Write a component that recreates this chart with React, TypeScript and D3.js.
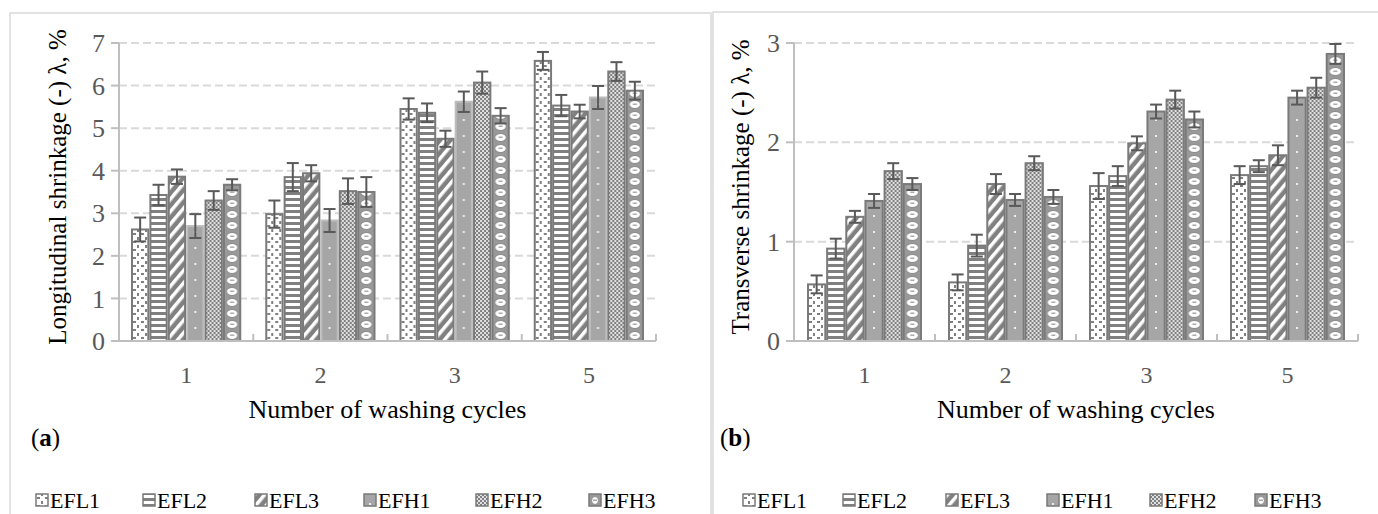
import React from "react";
import * as d3 from "d3";

const categories = ["1", "2", "3", "5"];
const series = ["EFL1", "EFL2", "EFL3", "EFH1", "EFH2", "EFH3"];

const longValues = [
  [2.62, 3.43, 3.86, 2.7, 3.3, 3.67],
  [2.98, 3.85, 3.94, 2.83, 3.52, 3.5],
  [5.45, 5.36, 4.75, 5.62, 6.07, 5.29],
  [6.58, 5.53, 5.39, 5.72, 6.33, 5.88],
];
const longErrors = [
  [0.28, 0.24, 0.17, 0.28, 0.22, 0.13],
  [0.32, 0.33, 0.19, 0.27, 0.3, 0.35],
  [0.25, 0.22, 0.19, 0.24, 0.26, 0.18],
  [0.21, 0.25, 0.16, 0.27, 0.22, 0.21],
];
const transValues = [
  [0.57, 0.93, 1.25, 1.41, 1.71, 1.58],
  [0.59, 0.96, 1.58, 1.42, 1.79, 1.45],
  [1.56, 1.66, 1.99, 2.31, 2.43, 2.23],
  [1.67, 1.76, 1.87, 2.45, 2.55, 2.89],
];
const transErrors = [
  [0.09, 0.1, 0.06, 0.07, 0.08, 0.06],
  [0.08, 0.11, 0.1, 0.06, 0.07, 0.07],
  [0.13, 0.1, 0.07, 0.07, 0.09, 0.08],
  [0.09, 0.06, 0.1, 0.07, 0.1, 0.1],
];
const longTicks = [0, 1, 2, 3, 4, 5, 6, 7];
const transTicks = [0, 1, 2, 3];

const FONT = "'Liberation Serif', 'Times New Roman', serif";
const GREY = "#808080";

function Pattern({ id, type, x, w }: { id: string; type: number; x: number; w: number }) {
  if (type === 0) {
    return (
      <pattern id={id} patternUnits="userSpaceOnUse" x={x} y={0} width={8} height={8}>
        <rect width={8} height={8} fill="#fff" />
        <rect x={1} y={1} width={3} height={2} fill={GREY} />
        <rect x={5} y={5} width={2} height={3} fill={GREY} />
      </pattern>
    );
  }
  if (type === 1) {
    return (
      <pattern id={id} patternUnits="userSpaceOnUse" x={x} y={0} width={6} height={6}>
        <rect width={6} height={6} fill="#fff" />
        <rect width={6} height={3} fill={GREY} />
      </pattern>
    );
  }
  if (type === 2) {
    return (
      <pattern id={id} patternUnits="userSpaceOnUse" x={x} y={0} width={8} height={8} patternTransform="rotate(40)">
        <rect width={8} height={8} fill={GREY} />
        <rect width={3.5} height={8} fill="#fff" />
      </pattern>
    );
  }
  if (type === 3) {
    return (
      <pattern id={id} patternUnits="userSpaceOnUse" x={x} y={0} width={w} height={16}>
        <rect width={w} height={16} fill="#a6a6a6" />
        <circle cx={w / 2} cy={8} r={1.1} fill="#fff" />
      </pattern>
    );
  }
  if (type === 4) {
    return (
      <pattern id={id} patternUnits="userSpaceOnUse" x={x} y={0} width={4} height={4}>
        <rect width={4} height={4} fill="#e0e0e0" />
        <rect width={2} height={2} fill={GREY} />
        <rect x={2} y={2} width={2} height={2} fill={GREY} />
      </pattern>
    );
  }
  return (
    <pattern id={id} patternUnits="userSpaceOnUse" x={x} y={0} width={w} height={11}>
      <rect width={w} height={11} fill="#999" />
      <ellipse cx={w / 2} cy={5.5} rx={w / 2 - 2.5} ry={4} fill="#fff" stroke="#8a8a8a" strokeWidth={1} />
      <rect x={w / 2 - 2} y={4.5} width={4} height={1.5} fill="#aaa" />
    </pattern>
  );
}

type PanelProps = {
  key?: string;
  pid: string;
  values: number[][];
  errors: number[][];
  ticks: number[];
  x0: number;
  x1: number;
  innerPad: number;
  barW: number;
  yTitle: string;
  yTitleX: number;
  tag: string;
  legendX: number[];
  efh1Stroke: string;
};

function Panel(p: PanelProps) {
  const yTop = 43;
  const yBot = 341;
  const ymax = p.ticks[p.ticks.length - 1];
  const y = d3.scaleLinear().domain([0, ymax]).range([yBot, yTop]);
  const x = d3.scaleBand<string>().domain(categories).range([p.x0, p.x1]).padding(0);
  const bw = x.bandwidth();
  const step = (bw - 2 * p.innerPad) / series.length;
  const xs = d3
    .scaleBand<string>()
    .domain(series)
    .range([p.innerPad, bw - p.innerPad])
    .paddingInner((step - p.barW) / step)
    .paddingOuter(0);
  const defs: any[] = [];
  const bars: any[] = [];
  const errs: any[] = [];
  categories.forEach((c, ci) => {
    series.forEach((s, si) => {
      const bx = (x(c) as number) + (xs(s) as number);
      const w = xs.bandwidth();
      const id = `${p.pid}-${ci}-${si}`;
      defs.push(<Pattern key={id} id={id} type={si} x={bx} w={w} />);
      const v = p.values[ci][si];
      const e = p.errors[ci][si];
      bars.push(
        <rect
          key={"b" + id}
          x={bx}
          y={y(v)}
          width={w}
          height={yBot - y(v)}
          fill={`url(#${id})`}
          stroke={si === 3 ? p.efh1Stroke : "#7a7a7a"}
          strokeWidth={2}
        />
      );
      const cx = bx + w / 2;
      errs.push(
        <g key={"e" + id} stroke="#595959" strokeWidth={2}>
          <line x1={cx} x2={cx} y1={y(v + e)} y2={y(v - e)} />
          <line x1={cx - 6} x2={cx + 6} y1={y(v + e)} y2={y(v + e)} />
          <line x1={cx - 6} x2={cx + 6} y1={y(v - e)} y2={y(v - e)} />
        </g>
      );
    });
  });
  const legendItems = series.map((s, si) => {
    const lx = p.legendX[si];
    const id = `${p.pid}-leg-${si}`;
    defs.push(<Pattern key={id} id={id} type={si} x={lx} w={12} />);
    return (
      <g key={id}>
        <rect x={lx} y={494} width={12} height={12} fill={`url(#${id})`} stroke="#7a7a7a" strokeWidth={1.5} />
        <text x={lx + 14} y={508} fontSize={22} fontFamily={FONT} fill="#000">
          {s}
        </text>
      </g>
    );
  });
  const midX = (p.x0 + p.x1) / 2;
  return (
    <g>
      <defs>{defs}</defs>
      {p.ticks.map((t) =>
        t === 0 ? null : (
          <line
            key={"g" + t}
            x1={p.x0}
            x2={p.x1}
            y1={y(t)}
            y2={y(t)}
            stroke="#d9d9d9"
            strokeWidth={2}
            strokeDasharray="8,4"
          />
        )
      )}
      {p.ticks.map((t) => (
        <line key={"t" + t} x1={p.x0 - 8} x2={p.x0} y1={y(t)} y2={y(t)} stroke="#bfbfbf" strokeWidth={2} />
      ))}
      {p.ticks.map((t) => (
        <text
          key={"l" + t}
          x={p.x0 - 14}
          y={y(t)}
          dy="0.35em"
          textAnchor="end"
          fontSize={26}
          fontFamily={FONT}
          fill="#595959"
        >
          {t}
        </text>
      ))}
      <line x1={p.x0} x2={p.x0} y1={yTop} y2={yBot} stroke="#bfbfbf" strokeWidth={2} />
      {bars}
      {errs}
      <line x1={p.x0} x2={p.x1} y1={yBot} y2={yBot} stroke="#bfbfbf" strokeWidth={2} />
      {categories.map((c, ci) =>
        ci === 0 ? null : (
          <line
            key={"xt" + c}
            x1={x(c) as number}
            x2={x(c) as number}
            y1={yBot - 7}
            y2={yBot}
            stroke="#bfbfbf"
            strokeWidth={2}
          />
        )
      )}
      <line x1={p.x1} x2={p.x1} y1={yBot - 7} y2={yBot} stroke="#bfbfbf" strokeWidth={2} />
      {categories.map((c) => (
        <text
          key={"xl" + c}
          x={(x(c) as number) + bw / 2}
          y={383}
          textAnchor="middle"
          fontSize={24}
          fontFamily={FONT}
          fill="#595959"
        >
          {c}
        </text>
      ))}
      <text x={midX} y={418} textAnchor="middle" fontSize={26} fontFamily={FONT} fill="#000">
        Number of washing cycles
      </text>
      <text
        transform={`translate(${p.yTitleX},${(yTop + yBot) / 2 - 5}) rotate(-90)`}
        textAnchor="middle"
        fontSize={25}
        fontFamily={FONT}
        fill="#000"
      >
        {p.yTitle}
      </text>
      <text x={p.pid === "a" ? 31 : 720} y={446} fontSize={25} fontFamily={FONT} fill="#000">
        (<tspan fontWeight="bold">{p.tag}</tspan>)
      </text>
      {legendItems}
    </g>
  );
}

export default function App() {
  return (
    <svg
      width={1378}
      height={514}
      style={{ position: "absolute", left: 0, top: 0, background: "#fff" }}
    >
      <rect x={0} y={0} width={1378} height={514} fill="#fff" />
      <rect x={10} y={13} width={701} height={520} fill="none" stroke="#d9d9d9" strokeWidth={1.5} />
      <rect x={713} y={12} width={700} height={520} fill="none" stroke="#d9d9d9" strokeWidth={1.5} />
      <Panel
        key="a"
        pid="a"
        values={longValues}
        errors={longErrors}
        ticks={longTicks}
        x0={119}
        x1={656}
        innerPad={13}
        barW={16}
        yTitle="Longitudinal shrinkage (-) λ, %"
        yTitleX={66}
        tag="a"
        legendX={[36, 143, 255, 364, 476, 589]}
        efh1Stroke="#bdbdbd"
      />
      <Panel
        key="b"
        pid="b"
        values={transValues}
        errors={transErrors}
        ticks={transTicks}
        x0={794}
        x1={1358}
        innerPad={14}
        barW={17}
        yTitle="Transverse shrinkage (-) λ, %"
        yTitleX={749}
        tag="b"
        legendX={[743, 843, 946, 1047, 1150, 1255]}
        efh1Stroke="#7a7a7a"
      />
    </svg>
  );
}
